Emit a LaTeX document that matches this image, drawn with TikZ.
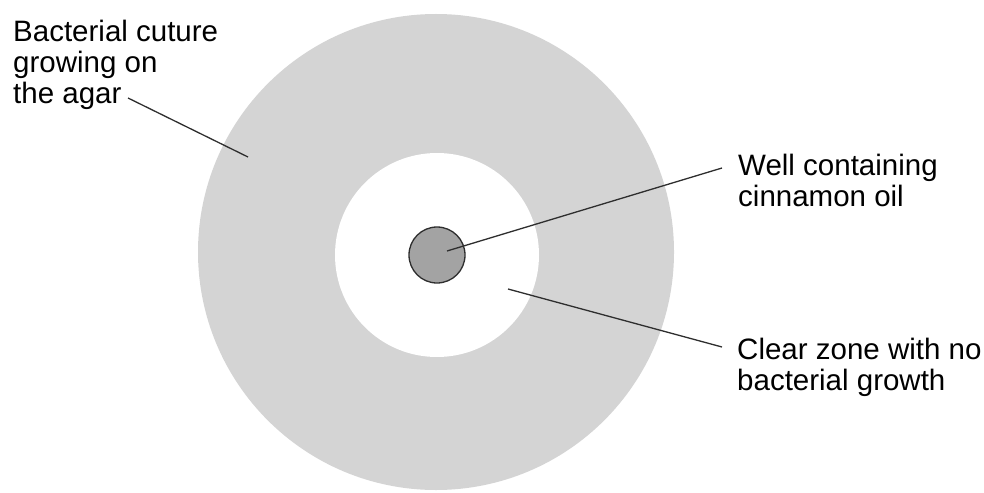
\documentclass[tikz,border=0pt]{standalone}
\usepackage{fontspec}
\setmainfont{Liberation Sans}
\usepackage{tikz}
\usetikzlibrary{positioning}
\definecolor{agar}{HTML}{D4D4D4}
\definecolor{oil}{HTML}{A3A3A3}
\definecolor{ink}{HTML}{2E2E2E}

\begin{document}
\begin{tikzpicture}[x=1pt, y=-1pt,
  lab/.style={inner sep=0pt, anchor=north west, align=left, text=black,
    font=\fontsize{29.5}{31}\selectfont},
  zone/.style={circle, inner sep=0pt, draw=none},
  lead/.style={draw=ink, line width=1.3pt}]
  \useasboundingbox (0,0) rectangle (984,492);
  % ---------------- plate
  \node[zone, fill=agar, minimum size=476pt] (plate) at (436,252) {};
  \node[zone, fill=white, minimum size=204pt] (clear) at (437,255) {};
  \node[zone, fill=oil, draw=ink, line width=1.3pt, minimum size=56pt] (well) at (437,255) {};
  % ---------------- labels
  \node[lab] (culture) at (13,20) {Bacterial cuture\\growing on\\the agar};
  \node[lab] (welltxt) at (738,154) {Well containing\\cinnamon oil};
  \node[lab] (cleartxt) at (737,338) {Clear zone with no\\bacterial growth};
  % ---------------- leaders
  \coordinate (c1) at (128,98);  \coordinate (c2) at (248,157);
  \coordinate (w1) at (722,168); \coordinate (w2) at (447,251);
  \coordinate (z1) at (722,347); \coordinate (z2) at (508,289);
  \draw[lead] (c1) -- (c2);
  \draw[lead] (w1) -- (w2);
  \draw[lead] (z1) -- (z2);
\end{tikzpicture}
\end{document}
